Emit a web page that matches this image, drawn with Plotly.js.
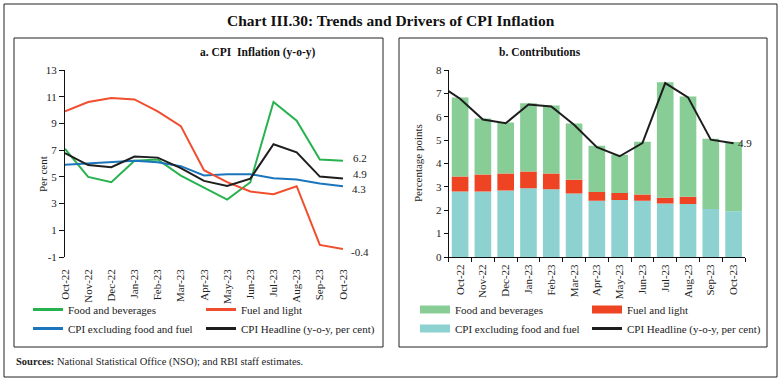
<!DOCTYPE html>
<html><head><meta charset="utf-8">
<script src="https://cdn.plot.ly/plotly-3.0.1.min.js"></script>
<style>html,body{margin:0;padding:0;background:#fff}#chart{width:782px;height:383px}</style>
</head><body><div id="chart"></div>
<script>
// ---- data ----
const months = ['Oct-22','Nov-22','Dec-22','Jan-23','Feb-23','Mar-23','Apr-23','May-23','Jun-23','Jul-23','Aug-23','Sep-23','Oct-23'];
const prevMonth = 'Sep-22';
// Panel a: y-o-y inflation (per cent)
const foodBev   = [7.1, 5.0, 4.6, 6.2, 6.3, 5.1, 4.2, 3.3, 4.6, 10.6, 9.2, 6.3, 6.2];
const fuelLight = [9.9, 10.6, 10.9, 10.8, 9.9, 8.8, 5.5, 4.6, 3.9, 3.7, 4.3, -0.1, -0.4];
const coreCpi   = [5.9, 6.0, 6.1, 6.2, 6.1, 5.8, 5.1, 5.2, 5.2, 4.9, 4.8, 4.5, 4.3];
const headline  = [6.77, 5.88, 5.72, 6.52, 6.44, 5.66, 4.70, 4.31, 4.87, 7.44, 6.83, 5.02, 4.87];
const headlinePrev = 7.41;
// Panel b: contributions (percentage points)
const contribCore = [2.80, 2.80, 2.84, 2.94, 2.90, 2.72, 2.41, 2.44, 2.41, 2.29, 2.27, 2.05, 1.96];
const contribFuel = [0.64, 0.73, 0.73, 0.72, 0.67, 0.59, 0.37, 0.30, 0.26, 0.25, 0.31, -0.01, -0.03];
const contribFood = [3.38, 2.39, 2.18, 2.92, 2.91, 2.40, 1.98, 1.63, 2.26, 4.94, 4.29, 3.01, 2.96];
const yTicksA = [-1, 1, 3, 5, 7, 9, 11, 13];
const yTickTextA = ['-1', '1', '3', '5', '7', '9', '11', '13'];
const yTicksB = [0, 1, 2, 3, 4, 5, 6, 7, 8];

// ---- layout helpers ----
const W = 782, H = 383;
const px = v => v / W, py = v => 1 - v / H;
const FONT = 'Liberation Serif, Times New Roman, serif';
const C = {food:'#27b24f', fuel:'#f04e2e', core:'#1b75bc', head:'#1e1e1e',
           foodBar:'#88cc96', fuelBar:'#ef4423', coreBar:'#8dd2d1'};

const domA = [px(65), px(343)], domB = [px(448.7), px(745)];
const domY = [py(257), py(70)];
const rangeA = [yTicksA[0], yTicksA[yTicksA.length-1]];
const zeroPos = domY[0] + (0 - rangeA[0]) / (rangeA[1] - rangeA[0]) * (domY[1] - domY[0]);

const traces = [
  {x: months, y: foodBev, type:'scatter', mode:'lines', name:'Food and beverages', line:{color:C.food, width:2}, xaxis:'x', yaxis:'y', showlegend:false},
  {x: months, y: coreCpi, type:'scatter', mode:'lines', name:'CPI excluding food and fuel', line:{color:C.core, width:2}, xaxis:'x', yaxis:'y', showlegend:false},
  {x: months, y: fuelLight, type:'scatter', mode:'lines', name:'Fuel and light', line:{color:C.fuel, width:2}, xaxis:'x', yaxis:'y', showlegend:false},
  {x: months, y: headline, type:'scatter', mode:'lines', name:'CPI Headline (y-o-y, per cent)', line:{color:C.head, width:2}, xaxis:'x', yaxis:'y', showlegend:false},
  {x: months, y: contribCore, type:'bar', name:'CPI excluding food and fuel', marker:{color:C.coreBar}, xaxis:'x2', yaxis:'y2', showlegend:false},
  {x: months, y: contribFuel, type:'bar', name:'Fuel and light', marker:{color:C.fuelBar}, xaxis:'x2', yaxis:'y2', showlegend:false},
  {x: months, y: contribFood, type:'bar', name:'Food and beverages', marker:{color:C.foodBar}, xaxis:'x2', yaxis:'y2', showlegend:false},
  {x: [prevMonth].concat(months), y: [headlinePrev].concat(headline), type:'scatter', mode:'lines', name:'CPI Headline (y-o-y, per cent)', line:{color:C.head, width:2}, xaxis:'x2', yaxis:'y2', showlegend:false},
  // legend swatches, panel a
  {x:[null], y:[null], type:'scatter', mode:'lines', name:'Food and beverages', line:{color:C.food, width:3}, xaxis:'x', yaxis:'y', legend:'legend'},
  {x:[null], y:[null], type:'scatter', mode:'lines', name:'CPI excluding food and fuel', line:{color:C.core, width:3}, xaxis:'x', yaxis:'y', legend:'legend'},
  {x:[null], y:[null], type:'scatter', mode:'lines', name:'Fuel and light', line:{color:C.fuel, width:3}, xaxis:'x', yaxis:'y', legend:'legend2'},
  {x:[null], y:[null], type:'scatter', mode:'lines', name:'CPI Headline (y-o-y, per cent)', line:{color:C.head, width:3}, xaxis:'x', yaxis:'y', legend:'legend2'},
  // legend swatches, panel b
  {x:[null], y:[null], type:'scatter', mode:'lines', name:'Food and beverages', line:{color:C.foodBar, width:8}, xaxis:'x2', yaxis:'y2', legend:'legend3'},
  {x:[null], y:[null], type:'scatter', mode:'lines', name:'CPI excluding food and fuel', line:{color:C.coreBar, width:8}, xaxis:'x2', yaxis:'y2', legend:'legend3'},
  {x:[null], y:[null], type:'scatter', mode:'lines', name:'Fuel and light', line:{color:C.fuelBar, width:8}, xaxis:'x2', yaxis:'y2', legend:'legend4'},
  {x:[null], y:[null], type:'scatter', mode:'lines', name:'CPI Headline (y-o-y, per cent)', line:{color:C.head, width:3}, xaxis:'x2', yaxis:'y2', legend:'legend4'}
];

const tickFont = {family:FONT, size:11, color:'#222'};
const legBase = {orientation:'v', traceorder:'normal', font:{family:FONT, size:11, color:'#222'}, bgcolor:'rgba(0,0,0,0)', borderwidth:0, xanchor:'left', yanchor:'top', y:py(295), tracegroupgap:0};

const last = months.length - 1;
const ann = (o) => Object.assign({xref:'paper', yref:'paper', showarrow:false, yanchor:'middle', font:{family:FONT, size:11, color:'#222'}}, o);
const layout = {
  width: W, height: H, margin:{l:0, r:0, t:0, b:0},
  paper_bgcolor:'#fff', plot_bgcolor:'rgba(0,0,0,0)',
  font:{family:FONT, size:11, color:'#222'},
  barmode:'relative', bargap:0.27,
  xaxis:{domain:domA, anchor:'y', type:'category', range:[0, last], showline:false, ticks:'', tickangle:-90,
         tickfont:tickFont, showgrid:false, zeroline:false, ticklabelstandoff:9},
  xaxis3:{domain:domA, overlaying:'x', matches:'x', anchor:'free', position:zeroPos, type:'category', range:[0, last],
          showline:true, linecolor:'#111', linewidth:2, ticks:'outside', ticklen:3, tickcolor:'#111', tickwidth:1,
          showticklabels:false, showgrid:false, zeroline:false},
  yaxis:{domain:domY, anchor:'x', range:rangeA, tickvals:yTicksA, ticktext:yTickTextA, ticks:'outside', ticklen:5, tickcolor:'#111',
         showline:true, linecolor:'#111', linewidth:1, showgrid:false, zeroline:false, tickfont:tickFont},
  xaxis2:{domain:domB, anchor:'y2', type:'category', categoryorder:'array', categoryarray:[prevMonth].concat(months),
          range:[0.5, months.length + 0.5], tickson:'boundaries', ticks:'outside', ticklen:4, tickcolor:'#111',
          showline:true, linecolor:'#111', linewidth:1, tickangle:-90, tickfont:tickFont, showgrid:false, zeroline:false,
          ticklabelstandoff:2},
  yaxis2:{domain:domY, anchor:'x2', range:[yTicksB[0], yTicksB[yTicksB.length-1]], tickvals:yTicksB, ticks:'outside', ticklen:4,
          tickcolor:'#111', showline:true, linecolor:'#111', linewidth:1, showgrid:false, zeroline:false, tickfont:tickFont},
  legend: Object.assign({}, legBase, {x:px(28)}),
  legend2: Object.assign({}, legBase, {x:px(201)}),
  legend3: Object.assign({}, legBase, {x:px(415)}),
  legend4: Object.assign({}, legBase, {x:px(587)}),
  shapes:[
    {type:'rect', xref:'paper', yref:'paper', x0:px(4), x1:px(777), y0:py(377), y1:py(4), line:{color:'#222', width:1}},
    {type:'rect', xref:'paper', yref:'paper', x0:px(14), x1:px(383), y0:py(347), y1:py(38), line:{color:'#222', width:1}},
    {type:'rect', xref:'paper', yref:'paper', x0:px(399), x1:px(767), y0:py(347), y1:py(38), line:{color:'#222', width:1}}
  ],
  annotations:[
    ann({text:'<b>Chart III.30: Trends and Drivers of CPI Inflation</b>', x:px(391), y:py(20), font:{family:FONT, size:15.5, color:'#111'}}),
    ann({text:'<b>a. CPI\u00a0\u00a0Inflation (y-o-y)</b>', x:px(198), y:py(52.5), font:{family:FONT, size:11.5, color:'#111'}}),
    ann({text:'<b>b. Contributions</b>', x:px(583), y:py(52.5), font:{family:FONT, size:11.5, color:'#111'}}),
    ann({text:'Per cent', x:px(35), y:py(174), textangle:-90}),
    ann({text:'Percentage points', x:px(418), y:py(163), textangle:-90}),
    ann({text:'<b>Sources:</b> National Statistical Office (NSO); and RBI staff estimates.', x:px(14), y:py(362), xanchor:'left', font:{family:FONT, size:10.5, color:'#222'}}),
    {text:foodBev[last].toFixed(1), xref:'x', yref:'y', x:months[last], y:foodBev[last], xanchor:'left', xshift:8, yshift:3, showarrow:false, font:{family:FONT, size:11, color:'#222'}},
    {text:headline[last].toFixed(1), xref:'x', yref:'y', x:months[last], y:headline[last], xanchor:'left', xshift:8, yshift:5, showarrow:false, font:{family:FONT, size:11, color:'#222'}},
    {text:coreCpi[last].toFixed(1), xref:'x', yref:'y', x:months[last], y:coreCpi[last], xanchor:'left', xshift:7, yshift:-3, showarrow:false, font:{family:FONT, size:11, color:'#222'}},
    {text:fuelLight[last].toFixed(1), xref:'x', yref:'y', x:months[last], y:fuelLight[last], xanchor:'left', xshift:6, yshift:-3, showarrow:false, font:{family:FONT, size:11, color:'#222'}},
    {text:headline[last].toFixed(1), xref:'x2', yref:'y2', x:months[last], y:headline[last], xanchor:'left', xshift:2, yshift:0, showarrow:false, font:{family:FONT, size:11, color:'#222'}}
  ]
};
Plotly.newPlot('chart', traces, layout, {displayModeBar:false, staticPlot:true});
</script></body></html>
